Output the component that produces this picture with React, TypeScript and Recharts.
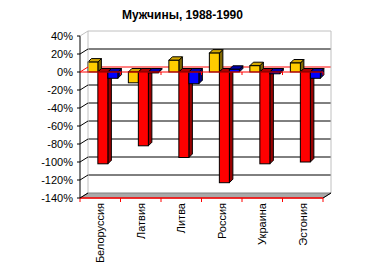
import React from "react";
import { BarChart, Bar, XAxis, YAxis, CartesianGrid, ReferenceLine } from "recharts";

// Men, 1988-1990: three series per country (percent)
const countries = ["Белоруссия", "Латвия", "Литва", "Россия", "Украина", "Эстония"];
const yellowValues = [11, -12, 13, 21, 7, 10];
const redValues = [-102, -82, -95, -123, -102, -100];
const blueValues = [-7, -1, -13, 3, -2, -7];
const yTicks = [-140, -120, -100, -80, -60, -40, -20, 0, 20, 40];

const data = countries.map((name, i) => ({
  name,
  yellow: yellowValues[i],
  red: redValues[i],
  blue: blueValues[i],
}));

// fake 3D: offset of the back wall, and depth of each bar
const DX = 8;
const DY = -5;
const BD = 3.5;
const PLOT_TOP = 36;
const PLOT_BOTTOM = 198;

function makeBar(front: string, top: string, side: string) {
  return (props: any) => {
    const { x, y, width, height } = props;
    if (x == null || y == null) return <g />;
    const x0 = x + 3;
    const t = Math.min(y, y + height);
    const h = Math.abs(height);
    const w = width;
    return (
      <g stroke="#000" strokeWidth={1}>
        <polygon
          points={`${x0 + w},${t} ${x0 + w + BD},${t - BD} ${x0 + w + BD},${t + h - BD} ${x0 + w},${t + h}`}
          fill={side}
        />
        <polygon
          points={`${x0},${t} ${x0 + BD},${t - BD} ${x0 + w + BD},${t - BD} ${x0 + w},${t}`}
          fill={top}
        />
        <rect x={x0} y={t} width={w} height={h} fill={front} />
      </g>
    );
  };
}

const gridLine = (props: any) => {
  const { x1, x2, y1 } = props;
  if (Math.abs(y1 - PLOT_BOTTOM) < 1) return <g />;
  let stroke = "#000";
  if (Math.abs(y1 - PLOT_TOP) < 1) stroke = "#c0c0c0";
  if (Math.abs(y1 - 72) < 1.5) stroke = "#ff0000";
  return <line x1={x1 + DX} y1={y1 + DY} x2={x2 + DX} y2={y1 + DY} stroke={stroke} strokeWidth={1} />;
};

const YTick = (props: any) => {
  const { x, y, payload } = props;
  const axisX = x + 7;
  const col = payload.value === 40 ? "#c0c0c0" : payload.value === 0 ? "#ff0000" : "#000";
  return (
    <g>
      <text x={x} y={y + 4} textAnchor="end" fontSize={11} fill="#000">
        {payload.value}%
      </text>
      <line x1={axisX - 3} y1={y} x2={axisX} y2={y} stroke="#000" />
      <line x1={axisX} y1={y} x2={axisX + DX} y2={y + DY} stroke={col} />
    </g>
  );
};

const XTick = (props: any) => {
  const { x, payload, index } = props;
  const half = payload.offset || 20.25;
  return (
    <g>
      <line x1={x - half} y1={PLOT_BOTTOM} x2={x - half} y2={PLOT_BOTTOM + 4} stroke="#ff0000" />
      {index === countries.length - 1 && (
        <line x1={x + half} y1={PLOT_BOTTOM} x2={x + half} y2={PLOT_BOTTOM + 4} stroke="#ff0000" />
      )}
      <text
        transform={`translate(${x + 4},${PLOT_BOTTOM + 5}) rotate(-90)`}
        textAnchor="end"
        fontSize={11}
        fill="#000"
      >
        {payload.value}
      </text>
    </g>
  );
};

const floorShape = (props: any) => {
  const { x1, x2, y1 } = props;
  return (
    <g>
      <polygon
        points={`${x1},${y1} ${x1 + DX},${y1 + DY} ${x2 + DX},${y1 + DY} ${x2},${y1}`}
        fill="#a9a9a9"
        stroke="#808080"
      />
      <line x1={x2} y1={y1} x2={x2 + DX} y2={y1 + DY} stroke="#000" />
      <line x1={x1} y1={y1} x2={x2} y2={y1} stroke="#ff0000" />
    </g>
  );
};

const wallShape = (props: any) => {
  const { x1, x2, y1 } = props;
  return (
    <g stroke="#c0c0c0">
      <line x1={x1 + DX} y1={y1 + DY} x2={x1 + DX} y2={PLOT_BOTTOM + DY} />
      <line x1={x2 + DX} y1={y1 + DY} x2={x2 + DX} y2={PLOT_BOTTOM + DY} />
    </g>
  );
};

const zeroShape = (props: any) => {
  const { x1, x2, y1 } = props;
  const step = (x2 - x1) / countries.length;
  return (
    <g stroke="#ff0000">
      <line x1={x1} y1={y1} x2={x2} y2={y1} />
      {countries.map((c, i) => (
        <line key={c} x1={x1 + step * (i + 1)} y1={y1} x2={x1 + step * (i + 1)} y2={y1 + 3} />
      ))}
    </g>
  );
};

export default function App() {
  return (
    <div
      style={{
        position: "absolute",
        left: 0,
        top: 0,
        width: 371,
        height: 273,
        background: "#fff",
        fontFamily: "'Liberation Sans', Arial, sans-serif",
      }}
    >
      <div
        style={{
          position: "absolute",
          top: 8,
          left: 0,
          width: 365,
          textAlign: "center",
          fontSize: 12,
          fontWeight: 700,
          color: "#000",
        }}
      >
        Мужчины, 1988-1990
      </div>
      <BarChart
        width={371}
        height={273}
        data={data}
        margin={{ top: 36, right: 48, bottom: 0, left: 0 }}
        barCategoryGap="12%"
        barGap={0}
      >
        <CartesianGrid vertical={false} horizontal={gridLine} />
        <ReferenceLine y={40} shape={wallShape} />
        <ReferenceLine y={-140} shape={floorShape} />
        <XAxis
          dataKey="name"
          axisLine={{ stroke: "#ff0000" }}
          tickLine={false}
          tick={<XTick />}
          interval={0}
          height={75}
        />
        <YAxis
          domain={[-140, 40]}
          ticks={yTicks}
          width={80}
          axisLine={{ stroke: "#000" }}
          tickLine={false}
          tickSize={4}
          tickMargin={3}
          tick={<YTick />}
          interval={0}
        />
        <ReferenceLine y={0} shape={zeroShape} />
        <Bar dataKey="yellow" isAnimationActive={false} shape={makeBar("#ffcc00", "#d4a800", "#806600")} />
        <Bar dataKey="red" isAnimationActive={false} shape={makeBar("#ff0000", "#b00000", "#990000")} />
        <Bar dataKey="blue" isAnimationActive={false} shape={makeBar("#0000ff", "#0000b0", "#000080")} />
      </BarChart>
    </div>
  );
}
